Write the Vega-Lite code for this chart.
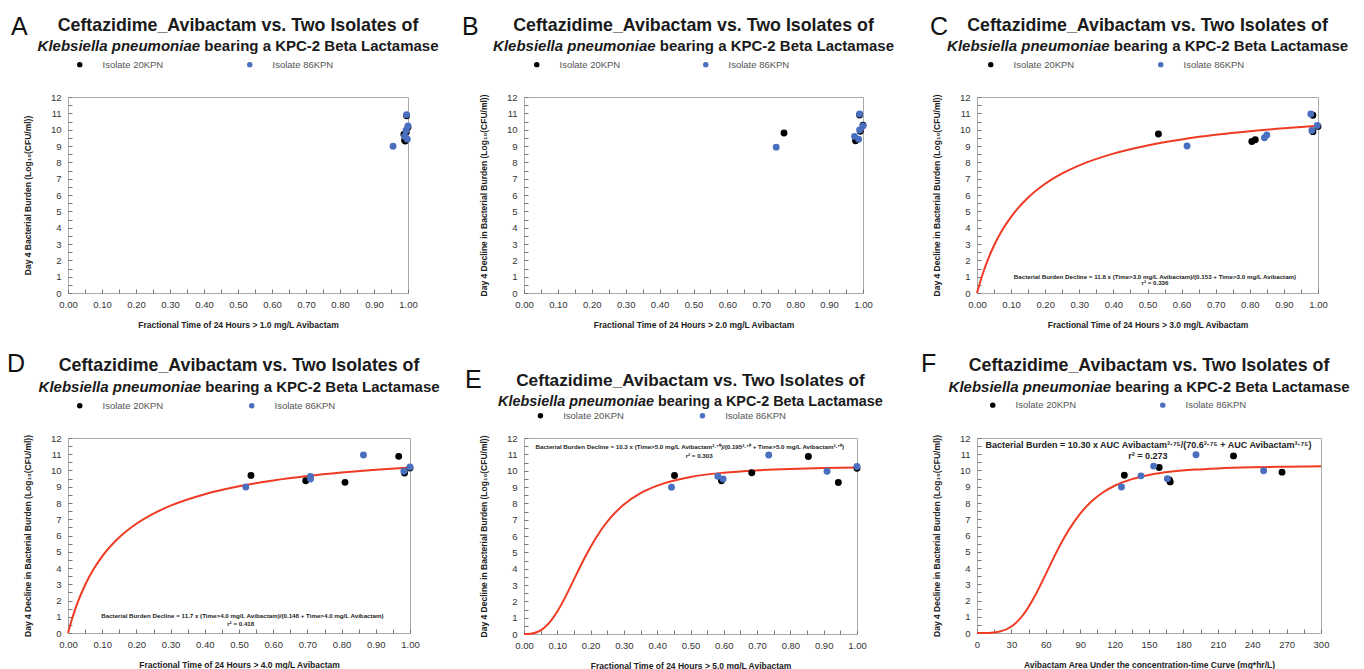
{
  "$schema": "https://vega.github.io/schema/vega-lite/v6.json",
  "padding": {"left": 6, "top": 14, "right": 0, "bottom": 0},
  "background": "white",
  "datasets": {
    "A_pts": [
      {"isolate": "Isolate 20KPN", "x": 0.988, "y": 9.7},
      {"isolate": "Isolate 20KPN", "x": 1.0, "y": 10.15},
      {"isolate": "Isolate 20KPN", "x": 0.992, "y": 9.3},
      {"isolate": "Isolate 20KPN", "x": 0.99, "y": 9.35},
      {"isolate": "Isolate 20KPN", "x": 0.996, "y": 10.85},
      {"isolate": "Isolate 20KPN", "x": 0.995, "y": 9.85},
      {"isolate": "Isolate 86KPN", "x": 0.956, "y": 8.98},
      {"isolate": "Isolate 86KPN", "x": 0.99, "y": 9.6},
      {"isolate": "Isolate 86KPN", "x": 1.0, "y": 10.22},
      {"isolate": "Isolate 86KPN", "x": 0.998, "y": 9.42},
      {"isolate": "Isolate 86KPN", "x": 0.996, "y": 10.92},
      {"isolate": "Isolate 86KPN", "x": 0.994, "y": 9.95}
    ],
    "B_pts": [
      {"isolate": "Isolate 20KPN", "x": 0.767, "y": 9.8},
      {"isolate": "Isolate 20KPN", "x": 1.0, "y": 10.28},
      {"isolate": "Isolate 20KPN", "x": 0.978, "y": 9.32},
      {"isolate": "Isolate 20KPN", "x": 0.98, "y": 9.38},
      {"isolate": "Isolate 20KPN", "x": 0.99, "y": 10.9},
      {"isolate": "Isolate 20KPN", "x": 0.992, "y": 9.9},
      {"isolate": "Isolate 86KPN", "x": 0.744, "y": 8.93},
      {"isolate": "Isolate 86KPN", "x": 0.975, "y": 9.59},
      {"isolate": "Isolate 86KPN", "x": 1.0, "y": 10.22},
      {"isolate": "Isolate 86KPN", "x": 0.987, "y": 9.42},
      {"isolate": "Isolate 86KPN", "x": 0.99, "y": 10.96},
      {"isolate": "Isolate 86KPN", "x": 0.99, "y": 9.98}
    ],
    "C_pts": [
      {"isolate": "Isolate 20KPN", "x": 0.532, "y": 9.73},
      {"isolate": "Isolate 20KPN", "x": 1.0, "y": 10.2},
      {"isolate": "Isolate 20KPN", "x": 0.806, "y": 9.28},
      {"isolate": "Isolate 20KPN", "x": 0.816, "y": 9.38},
      {"isolate": "Isolate 20KPN", "x": 0.985, "y": 10.88},
      {"isolate": "Isolate 20KPN", "x": 0.985, "y": 9.88},
      {"isolate": "Isolate 86KPN", "x": 0.616, "y": 9.0},
      {"isolate": "Isolate 86KPN", "x": 0.85, "y": 9.67},
      {"isolate": "Isolate 86KPN", "x": 0.998, "y": 10.25},
      {"isolate": "Isolate 86KPN", "x": 0.843, "y": 9.5},
      {"isolate": "Isolate 86KPN", "x": 0.979, "y": 10.96},
      {"isolate": "Isolate 86KPN", "x": 0.982, "y": 9.95}
    ],
    "D_pts": [
      {"isolate": "Isolate 20KPN", "x": 0.535, "y": 9.7},
      {"isolate": "Isolate 20KPN", "x": 1.0, "y": 10.15},
      {"isolate": "Isolate 20KPN", "x": 0.81, "y": 9.27},
      {"isolate": "Isolate 20KPN", "x": 0.695, "y": 9.37},
      {"isolate": "Isolate 20KPN", "x": 0.967, "y": 10.87},
      {"isolate": "Isolate 20KPN", "x": 0.984, "y": 9.85},
      {"isolate": "Isolate 86KPN", "x": 0.52, "y": 8.98},
      {"isolate": "Isolate 86KPN", "x": 0.709, "y": 9.64},
      {"isolate": "Isolate 86KPN", "x": 1.0, "y": 10.22},
      {"isolate": "Isolate 86KPN", "x": 0.709, "y": 9.48},
      {"isolate": "Isolate 86KPN", "x": 0.864, "y": 10.95},
      {"isolate": "Isolate 86KPN", "x": 0.982, "y": 9.95}
    ],
    "E_pts": [
      {"isolate": "Isolate 20KPN", "x": 0.452, "y": 9.7},
      {"isolate": "Isolate 20KPN", "x": 1.0, "y": 10.15},
      {"isolate": "Isolate 20KPN", "x": 0.944, "y": 9.27},
      {"isolate": "Isolate 20KPN", "x": 0.593, "y": 9.38},
      {"isolate": "Isolate 20KPN", "x": 0.854, "y": 10.87},
      {"isolate": "Isolate 20KPN", "x": 0.684, "y": 9.87},
      {"isolate": "Isolate 86KPN", "x": 0.443, "y": 8.98},
      {"isolate": "Isolate 86KPN", "x": 0.582, "y": 9.66},
      {"isolate": "Isolate 86KPN", "x": 1.0, "y": 10.26},
      {"isolate": "Isolate 86KPN", "x": 0.598, "y": 9.49},
      {"isolate": "Isolate 86KPN", "x": 0.735, "y": 10.96},
      {"isolate": "Isolate 86KPN", "x": 0.91, "y": 9.96}
    ],
    "F_pts": [
      {"isolate": "Isolate 20KPN", "x": 128.5, "y": 9.71},
      {"isolate": "Isolate 20KPN", "x": 158.9, "y": 10.19},
      {"isolate": "Isolate 20KPN", "x": 168.5, "y": 9.3},
      {"isolate": "Isolate 20KPN", "x": 167.8, "y": 9.42},
      {"isolate": "Isolate 20KPN", "x": 223.7, "y": 10.9},
      {"isolate": "Isolate 20KPN", "x": 266, "y": 9.9},
      {"isolate": "Isolate 86KPN", "x": 126, "y": 8.99},
      {"isolate": "Isolate 86KPN", "x": 143, "y": 9.67},
      {"isolate": "Isolate 86KPN", "x": 154, "y": 10.27},
      {"isolate": "Isolate 86KPN", "x": 166, "y": 9.5},
      {"isolate": "Isolate 86KPN", "x": 191, "y": 10.97},
      {"isolate": "Isolate 86KPN", "x": 250, "y": 9.98}
    ],
    "C_fit": [
      {"x": 0, "y": 0}, {"x": 0.01, "y": 0.724}, {"x": 0.02, "y": 1.364}, {"x": 0.03, "y": 1.934},
      {"x": 0.05, "y": 2.906}, {"x": 0.075, "y": 3.882}, {"x": 0.1, "y": 4.664}, {"x": 0.15, "y": 5.842},
      {"x": 0.2, "y": 6.686}, {"x": 0.25, "y": 7.32}, {"x": 0.3, "y": 7.815}, {"x": 0.4, "y": 8.535},
      {"x": 0.5, "y": 9.035}, {"x": 0.6, "y": 9.402}, {"x": 0.7, "y": 9.684}, {"x": 0.8, "y": 9.906},
      {"x": 0.9, "y": 10.085}, {"x": 1.0, "y": 10.234}
    ],
    "D_fit": [
      {"x": 0, "y": 0}, {"x": 0.01, "y": 0.741}, {"x": 0.02, "y": 1.393}, {"x": 0.03, "y": 1.972},
      {"x": 0.05, "y": 2.955}, {"x": 0.075, "y": 3.935}, {"x": 0.1, "y": 4.718}, {"x": 0.15, "y": 5.889},
      {"x": 0.2, "y": 6.724}, {"x": 0.25, "y": 7.349}, {"x": 0.3, "y": 7.835}, {"x": 0.4, "y": 8.54},
      {"x": 0.5, "y": 9.028}, {"x": 0.6, "y": 9.385}, {"x": 0.7, "y": 9.658}, {"x": 0.8, "y": 9.873},
      {"x": 0.9, "y": 10.048}, {"x": 1.0, "y": 10.192}
    ],
    "E_fit": [
      {"x": 0, "y": 0}, {"x": 0.02, "y": 0.018}, {"x": 0.04, "y": 0.121}, {"x": 0.06, "y": 0.367},
      {"x": 0.08, "y": 0.785}, {"x": 0.1, "y": 1.376}, {"x": 0.12, "y": 2.105}, {"x": 0.14, "y": 2.919},
      {"x": 0.16, "y": 3.759}, {"x": 0.18, "y": 4.575}, {"x": 0.2, "y": 5.333}, {"x": 0.23, "y": 6.32},
      {"x": 0.26, "y": 7.119}, {"x": 0.3, "y": 7.927}, {"x": 0.35, "y": 8.624}, {"x": 0.4, "y": 9.085},
      {"x": 0.5, "y": 9.612}, {"x": 0.6, "y": 9.876}, {"x": 0.7, "y": 10.02}, {"x": 0.8, "y": 10.106},
      {"x": 0.9, "y": 10.16}, {"x": 1.0, "y": 10.195}
    ],
    "F_fit": [
      {"x": 0, "y": 0}, {"x": 10, "y": 0.007}, {"x": 20, "y": 0.09}, {"x": 30, "y": 0.4},
      {"x": 40, "y": 1.093}, {"x": 50, "y": 2.218}, {"x": 60, "y": 3.626}, {"x": 70, "y": 5.068},
      {"x": 80, "y": 6.335}, {"x": 90, "y": 7.345}, {"x": 100, "y": 8.104}, {"x": 110, "y": 8.659},
      {"x": 120, "y": 9.061}, {"x": 135, "y": 9.467}, {"x": 150, "y": 9.724}, {"x": 170, "y": 9.932},
      {"x": 190, "y": 10.055}, {"x": 210, "y": 10.13}, {"x": 240, "y": 10.196}, {"x": 270, "y": 10.233},
      {"x": 300, "y": 10.255}
    ]
  },
  "columns": 3,
  "align": "none",
  "bounds": "flush",
  "spacing": {"row": 145, "column": 114},
  "resolve": {"scale": {"color": "independent"}, "legend": {"color": "independent"}},
  "concat": [
    {
      "width": 340, "height": 196,
      "resolve": {"scale": {"x": "independent", "y": "independent"}, "axis": {"x": "independent", "y": "independent"}},
      "layer": [
        {"data": {"name": "A_pts"}, "mark": {"type": "point", "filled": true, "size": 48, "opacity": 1},
         "encoding": {
           "x": {"field": "x", "type": "quantitative", "scale": {"domain": [0, 1], "nice": false},
                 "axis": {"title": "Fractional Time of 24 Hours > 1.0 mg/L Avibactam", "labelOverlap": false, "values": [0,0.05,0.1,0.15,0.2,0.25,0.3,0.35,0.4,0.45,0.5,0.55,0.6,0.65,0.7,0.75,0.8,0.85,0.9,0.95,1], "labelExpr": "round(datum.value*20) % 2 == 0 ? format(datum.value, '.2f') : ''"}},
           "y": {"field": "y", "type": "quantitative", "scale": {"domain": [0, 12], "nice": false},
                 "axis": {"title": "Day 4 Bacterial Burden (Log₁₀(CFU/ml))", "labelOverlap": false, "values": [0,0.5,1,1.5,2,2.5,3,3.5,4,4.5,5,5.5,6,6.5,7,7.5,8,8.5,9,9.5,10,10.5,11,11.5,12], "labelExpr": "datum.value % 1 == 0 ? format(datum.value, 'd') : ''"}},
           "color": {"field": "isolate", "type": "nominal", "scale": {"domain": ["Isolate 20KPN", "Isolate 86KPN"], "range": ["#000000", "#4a6fbf"]},
                     "legend": {"orient": "none", "legendX": 7, "legendY": -37.5, "direction": "horizontal", "title": null, "columnPadding": 81}}
         }},
        {"data": {"values": [{}]}, "mark": {"type": "text", "text": "A", "font": "Liberation Sans", "fontSize": 25, "align": "left", "baseline": "alphabetic", "color": "#111"},
         "encoding": {"x": {"datum": -0.1676, "scale": {"domain": [0, 1], "nice": false}, "axis": null}, "y": {"datum": 15.8, "scale": {"domain": [0, 12], "nice": false}, "axis": null}}},
        {"data": {"values": [{}]}, "mark": {"type": "text", "text": "Ceftazidime_Avibactam vs. Two Isolates of", "font": "Liberation Sans", "fontSize": 17.8, "fontWeight": "bold", "align": "center", "baseline": "alphabetic", "color": "#1a1a1a"},
         "encoding": {"x": {"datum": 0.5, "scale": {"domain": [0, 1], "nice": false}, "axis": null}, "y": {"datum": 16.04, "scale": {"domain": [0, 12], "nice": false}, "axis": null}}},
        {"data": {"values": [{}]}, "mark": {"type": "text", "text": "Klebsiella pneumoniae", "font": "Liberation Sans", "fontSize": 15, "fontWeight": "bold", "fontStyle": "italic", "align": "right", "baseline": "alphabetic", "color": "#1a1a1a"},
         "encoding": {"x": {"datum": 0.3885, "scale": {"domain": [0, 1], "nice": false}, "axis": null}, "y": {"datum": 14.79, "scale": {"domain": [0, 12], "nice": false}, "axis": null}}},
        {"data": {"values": [{}]}, "mark": {"type": "text", "text": "bearing a KPC-2 Beta Lactamase", "dx": 4.2, "font": "Liberation Sans", "fontSize": 15, "fontWeight": "bold", "align": "left", "baseline": "alphabetic", "color": "#1a1a1a"},
         "encoding": {"x": {"datum": 0.3885, "scale": {"domain": [0, 1], "nice": false}, "axis": null}, "y": {"datum": 14.79, "scale": {"domain": [0, 12], "nice": false}, "axis": null}}}
      ]
    },
    {
      "width": 339, "height": 196,
      "resolve": {"scale": {"x": "independent", "y": "independent"}, "axis": {"x": "independent", "y": "independent"}},
      "layer": [
        {"data": {"name": "B_pts"}, "mark": {"type": "point", "filled": true, "size": 48, "opacity": 1},
         "encoding": {
           "x": {"field": "x", "type": "quantitative", "scale": {"domain": [0, 1], "nice": false},
                 "axis": {"title": "Fractional Time of 24 Hours > 2.0 mg/L Avibactam", "labelOverlap": false, "values": [0,0.05,0.1,0.15,0.2,0.25,0.3,0.35,0.4,0.45,0.5,0.55,0.6,0.65,0.7,0.75,0.8,0.85,0.9,0.95,1], "labelExpr": "round(datum.value*20) % 2 == 0 ? format(datum.value, '.2f') : ''"}},
           "y": {"field": "y", "type": "quantitative", "scale": {"domain": [0, 12], "nice": false},
                 "axis": {"title": "Day 4 Decline in Bacterial Burden (Log₁₀(CFU/ml))", "labelOverlap": false, "values": [0,0.5,1,1.5,2,2.5,3,3.5,4,4.5,5,5.5,6,6.5,7,7.5,8,8.5,9,9.5,10,10.5,11,11.5,12], "labelExpr": "datum.value % 1 == 0 ? format(datum.value, 'd') : ''"}},
           "color": {"field": "isolate", "type": "nominal", "scale": {"domain": ["Isolate 20KPN", "Isolate 86KPN"], "range": ["#000000", "#4a6fbf"]},
                     "legend": {"orient": "none", "legendX": 8, "legendY": -37.5, "direction": "horizontal", "title": null, "columnPadding": 80}}
         }},
        {"data": {"values": [{}]}, "mark": {"type": "text", "text": "B", "font": "Liberation Sans", "fontSize": 25, "align": "left", "baseline": "alphabetic", "color": "#111"},
         "encoding": {"x": {"datum": -0.1829, "scale": {"domain": [0, 1], "nice": false}, "axis": null}, "y": {"datum": 15.8, "scale": {"domain": [0, 12], "nice": false}, "axis": null}}},
        {"data": {"values": [{}]}, "mark": {"type": "text", "text": "Ceftazidime_Avibactam vs. Two Isolates of", "font": "Liberation Sans", "fontSize": 17.8, "fontWeight": "bold", "align": "center", "baseline": "alphabetic", "color": "#1a1a1a"},
         "encoding": {"x": {"datum": 0.5, "scale": {"domain": [0, 1], "nice": false}, "axis": null}, "y": {"datum": 16.04, "scale": {"domain": [0, 12], "nice": false}, "axis": null}}},
        {"data": {"values": [{}]}, "mark": {"type": "text", "text": "Klebsiella pneumoniae", "font": "Liberation Sans", "fontSize": 15, "fontWeight": "bold", "fontStyle": "italic", "align": "right", "baseline": "alphabetic", "color": "#1a1a1a"},
         "encoding": {"x": {"datum": 0.3882, "scale": {"domain": [0, 1], "nice": false}, "axis": null}, "y": {"datum": 14.79, "scale": {"domain": [0, 12], "nice": false}, "axis": null}}},
        {"data": {"values": [{}]}, "mark": {"type": "text", "text": "bearing a KPC-2 Beta Lactamase", "dx": 4.2, "font": "Liberation Sans", "fontSize": 15, "fontWeight": "bold", "align": "left", "baseline": "alphabetic", "color": "#1a1a1a"},
         "encoding": {"x": {"datum": 0.3882, "scale": {"domain": [0, 1], "nice": false}, "axis": null}, "y": {"datum": 14.79, "scale": {"domain": [0, 12], "nice": false}, "axis": null}}}
      ]
    },
    {
      "width": 341, "height": 196,
      "resolve": {"scale": {"x": "independent", "y": "independent"}, "axis": {"x": "independent", "y": "independent"}},
      "layer": [
        {"data": {"name": "C_fit"}, "mark": {"type": "line", "color": "#ef3b24", "strokeWidth": 2, "interpolate": "monotone"},
         "encoding": {
           "x": {"field": "x", "type": "quantitative", "scale": {"domain": [0, 1], "nice": false},
                 "axis": {"title": "Fractional Time of 24 Hours > 3.0 mg/L Avibactam", "labelOverlap": false, "values": [0,0.05,0.1,0.15,0.2,0.25,0.3,0.35,0.4,0.45,0.5,0.55,0.6,0.65,0.7,0.75,0.8,0.85,0.9,0.95,1], "labelExpr": "round(datum.value*20) % 2 == 0 ? format(datum.value, '.2f') : ''"}},
           "y": {"field": "y", "type": "quantitative", "scale": {"domain": [0, 12], "nice": false},
                 "axis": {"title": "Day 4 Decline in Bacterial Burden (Log₁₀(CFU/ml))", "labelOverlap": false, "values": [0,0.5,1,1.5,2,2.5,3,3.5,4,4.5,5,5.5,6,6.5,7,7.5,8,8.5,9,9.5,10,10.5,11,11.5,12], "labelExpr": "datum.value % 1 == 0 ? format(datum.value, 'd') : ''"}}
         }},
        {"data": {"name": "C_pts"}, "mark": {"type": "point", "filled": true, "size": 48, "opacity": 1},
         "encoding": {
           "x": {"field": "x", "type": "quantitative", "scale": {"domain": [0, 1], "nice": false}, "axis": null},
           "y": {"field": "y", "type": "quantitative", "scale": {"domain": [0, 12], "nice": false}, "axis": null},
           "color": {"field": "isolate", "type": "nominal", "scale": {"domain": ["Isolate 20KPN", "Isolate 86KPN"], "range": ["#000000", "#4a6fbf"]},
                     "legend": {"orient": "none", "legendX": 9, "legendY": -37.5, "direction": "horizontal", "title": null, "columnPadding": 81}}
         }},
        {"data": {"values": [{}]}, "mark": {"type": "text", "text": "Bacterial Burden Decline = 11.8 x (Time>3.0 mg/L Avibactam)/(0.153 + Time>3.0 mg/L Avibactam)", "font": "Liberation Sans", "fontSize": 6.2, "fontWeight": "bold", "align": "center", "baseline": "middle", "color": "#222"},
         "encoding": {"x": {"datum": 0.522, "scale": {"domain": [0, 1], "nice": false}, "axis": null}, "y": {"datum": 1.0, "scale": {"domain": [0, 12], "nice": false}, "axis": null}}},
        {"data": {"values": [{}]}, "mark": {"type": "text", "text": "r² = 0.336", "font": "Liberation Sans", "fontSize": 6.2, "fontWeight": "bold", "align": "center", "baseline": "middle", "color": "#222"},
         "encoding": {"x": {"datum": 0.522, "scale": {"domain": [0, 1], "nice": false}, "axis": null}, "y": {"datum": 0.59, "scale": {"domain": [0, 12], "nice": false}, "axis": null}}},
        {"data": {"values": [{}]}, "mark": {"type": "text", "text": "C", "font": "Liberation Sans", "fontSize": 25, "align": "left", "baseline": "alphabetic", "color": "#111"},
         "encoding": {"x": {"datum": -0.1378, "scale": {"domain": [0, 1], "nice": false}, "axis": null}, "y": {"datum": 15.8, "scale": {"domain": [0, 12], "nice": false}, "axis": null}}},
        {"data": {"values": [{}]}, "mark": {"type": "text", "text": "Ceftazidime_Avibactam vs. Two Isolates of", "font": "Liberation Sans", "fontSize": 17.8, "fontWeight": "bold", "align": "center", "baseline": "alphabetic", "color": "#1a1a1a"},
         "encoding": {"x": {"datum": 0.5, "scale": {"domain": [0, 1], "nice": false}, "axis": null}, "y": {"datum": 16.04, "scale": {"domain": [0, 12], "nice": false}, "axis": null}}},
        {"data": {"values": [{}]}, "mark": {"type": "text", "text": "Klebsiella pneumoniae", "font": "Liberation Sans", "fontSize": 15, "fontWeight": "bold", "fontStyle": "italic", "align": "right", "baseline": "alphabetic", "color": "#1a1a1a"},
         "encoding": {"x": {"datum": 0.3889, "scale": {"domain": [0, 1], "nice": false}, "axis": null}, "y": {"datum": 14.79, "scale": {"domain": [0, 12], "nice": false}, "axis": null}}},
        {"data": {"values": [{}]}, "mark": {"type": "text", "text": "bearing a KPC-2 Beta Lactamase", "dx": 4.2, "font": "Liberation Sans", "fontSize": 15, "fontWeight": "bold", "align": "left", "baseline": "alphabetic", "color": "#1a1a1a"},
         "encoding": {"x": {"datum": 0.3889, "scale": {"domain": [0, 1], "nice": false}, "axis": null}, "y": {"datum": 14.79, "scale": {"domain": [0, 12], "nice": false}, "axis": null}}}
      ]
    },
    {
      "width": 342, "height": 195,
      "resolve": {"scale": {"x": "independent", "y": "independent"}, "axis": {"x": "independent", "y": "independent"}},
      "layer": [
        {"data": {"name": "D_fit"}, "mark": {"type": "line", "color": "#ef3b24", "strokeWidth": 2, "interpolate": "monotone"},
         "encoding": {
           "x": {"field": "x", "type": "quantitative", "scale": {"domain": [0, 1], "nice": false},
                 "axis": {"title": "Fractional Time of 24 Hours > 4.0 mg/L Avibactam", "labelOverlap": false, "values": [0,0.05,0.1,0.15,0.2,0.25,0.3,0.35,0.4,0.45,0.5,0.55,0.6,0.65,0.7,0.75,0.8,0.85,0.9,0.95,1], "labelExpr": "round(datum.value*20) % 2 == 0 ? format(datum.value, '.2f') : ''"}},
           "y": {"field": "y", "type": "quantitative", "scale": {"domain": [0, 12], "nice": false},
                 "axis": {"title": "Day 4 Decline in Bacterial Burden (Log₁₀(CFU/ml))", "labelOverlap": false, "values": [0,0.5,1,1.5,2,2.5,3,3.5,4,4.5,5,5.5,6,6.5,7,7.5,8,8.5,9,9.5,10,10.5,11,11.5,12], "labelExpr": "datum.value % 1 == 0 ? format(datum.value, 'd') : ''"}}
         }},
        {"data": {"name": "D_pts"}, "mark": {"type": "point", "filled": true, "size": 48, "opacity": 1},
         "encoding": {
           "x": {"field": "x", "type": "quantitative", "scale": {"domain": [0, 1], "nice": false}, "axis": null},
           "y": {"field": "y", "type": "quantitative", "scale": {"domain": [0, 12], "nice": false}, "axis": null},
           "color": {"field": "isolate", "type": "nominal", "scale": {"domain": ["Isolate 20KPN", "Isolate 86KPN"], "range": ["#000000", "#4a6fbf"]},
                     "legend": {"orient": "none", "legendX": 7, "legendY": -37.3, "direction": "horizontal", "title": null, "columnPadding": 83}}
         }},
        {"data": {"values": [{}]}, "mark": {"type": "text", "text": "Bacterial Burden Decline = 11.7 x (Time>4.0 mg/L Avibactam)/(0.148 + Time>4.0 mg/L Avibactam)", "font": "Liberation Sans", "fontSize": 6.2, "fontWeight": "bold", "align": "center", "baseline": "middle", "color": "#222"},
         "encoding": {"x": {"datum": 0.51, "scale": {"domain": [0, 1], "nice": false}, "axis": null}, "y": {"datum": 1.05, "scale": {"domain": [0, 12], "nice": false}, "axis": null}}},
        {"data": {"values": [{}]}, "mark": {"type": "text", "text": "r² = 0.418", "font": "Liberation Sans", "fontSize": 6.2, "fontWeight": "bold", "align": "center", "baseline": "middle", "color": "#222"},
         "encoding": {"x": {"datum": 0.505, "scale": {"domain": [0, 1], "nice": false}, "axis": null}, "y": {"datum": 0.55, "scale": {"domain": [0, 12], "nice": false}, "axis": null}}},
        {"data": {"values": [{}]}, "mark": {"type": "text", "text": "D", "font": "Liberation Sans", "fontSize": 25, "align": "left", "baseline": "alphabetic", "color": "#111"},
         "encoding": {"x": {"datum": -0.1784, "scale": {"domain": [0, 1], "nice": false}, "axis": null}, "y": {"datum": 16.06, "scale": {"domain": [0, 12], "nice": false}, "axis": null}}},
        {"data": {"values": [{}]}, "mark": {"type": "text", "text": "Ceftazidime_Avibactam vs. Two Isolates of", "font": "Liberation Sans", "fontSize": 17.8, "fontWeight": "bold", "align": "center", "baseline": "alphabetic", "color": "#1a1a1a"},
         "encoding": {"x": {"datum": 0.5, "scale": {"domain": [0, 1], "nice": false}, "axis": null}, "y": {"datum": 16.12, "scale": {"domain": [0, 12], "nice": false}, "axis": null}}},
        {"data": {"values": [{}]}, "mark": {"type": "text", "text": "Klebsiella pneumoniae", "font": "Liberation Sans", "fontSize": 15, "fontWeight": "bold", "fontStyle": "italic", "align": "right", "baseline": "alphabetic", "color": "#1a1a1a"},
         "encoding": {"x": {"datum": 0.3892, "scale": {"domain": [0, 1], "nice": false}, "axis": null}, "y": {"datum": 14.83, "scale": {"domain": [0, 12], "nice": false}, "axis": null}}},
        {"data": {"values": [{}]}, "mark": {"type": "text", "text": "bearing a KPC-2 Beta Lactamase", "dx": 4.2, "font": "Liberation Sans", "fontSize": 15, "fontWeight": "bold", "align": "left", "baseline": "alphabetic", "color": "#1a1a1a"},
         "encoding": {"x": {"datum": 0.3892, "scale": {"domain": [0, 1], "nice": false}, "axis": null}, "y": {"datum": 14.83, "scale": {"domain": [0, 12], "nice": false}, "axis": null}}}
      ]
    },
    {
      "width": 333, "height": 196,
      "resolve": {"scale": {"x": "independent", "y": "independent"}, "axis": {"x": "independent", "y": "independent"}},
      "layer": [
        {"data": {"name": "E_fit"}, "mark": {"type": "line", "color": "#ef3b24", "strokeWidth": 2, "interpolate": "monotone"},
         "encoding": {
           "x": {"field": "x", "type": "quantitative", "scale": {"domain": [0, 1], "nice": false},
                 "axis": {"title": "Fractional Time of 24 Hours > 5.0 mg/L Avibactam", "labelOverlap": false, "values": [0,0.05,0.1,0.15,0.2,0.25,0.3,0.35,0.4,0.45,0.5,0.55,0.6,0.65,0.7,0.75,0.8,0.85,0.9,0.95,1], "labelExpr": "round(datum.value*20) % 2 == 0 ? format(datum.value, '.2f') : ''"}},
           "y": {"field": "y", "type": "quantitative", "scale": {"domain": [0, 12], "nice": false},
                 "axis": {"title": "Day 4 Decline in Bacterial Burden (Log₁₀(CFU/ml))", "labelOverlap": false, "values": [0,0.5,1,1.5,2,2.5,3,3.5,4,4.5,5,5.5,6,6.5,7,7.5,8,8.5,9,9.5,10,10.5,11,11.5,12], "labelExpr": "datum.value % 1 == 0 ? format(datum.value, 'd') : ''"}}
         }},
        {"data": {"name": "E_pts"}, "mark": {"type": "point", "filled": true, "size": 48, "opacity": 1},
         "encoding": {
           "x": {"field": "x", "type": "quantitative", "scale": {"domain": [0, 1], "nice": false}, "axis": null},
           "y": {"field": "y", "type": "quantitative", "scale": {"domain": [0, 12], "nice": false}, "axis": null},
           "color": {"field": "isolate", "type": "nominal", "scale": {"domain": ["Isolate 20KPN", "Isolate 86KPN"], "range": ["#000000", "#4a6fbf"]},
                     "legend": {"orient": "none", "legendX": 11.7, "legendY": -27.3, "direction": "horizontal", "title": null, "columnPadding": 73}}
         }},
        {"data": {"values": [{}]}, "mark": {"type": "text", "text": "Bacterial Burden Decline = 10.3 x (Time>5.0 mg/L Avibactam²·⁷⁰)/(0.195²·⁷⁰ + Time>5.0 mg/L Avibactam²·⁷⁰)", "font": "Liberation Sans", "fontSize": 6.2, "fontWeight": "bold", "align": "center", "baseline": "middle", "color": "#222"},
         "encoding": {"x": {"datum": 0.498, "scale": {"domain": [0, 1], "nice": false}, "axis": null}, "y": {"datum": 11.44, "scale": {"domain": [0, 12], "nice": false}, "axis": null}}},
        {"data": {"values": [{}]}, "mark": {"type": "text", "text": "r² = 0.303", "font": "Liberation Sans", "fontSize": 6.2, "fontWeight": "bold", "align": "center", "baseline": "middle", "color": "#222"},
         "encoding": {"x": {"datum": 0.526, "scale": {"domain": [0, 1], "nice": false}, "axis": null}, "y": {"datum": 10.91, "scale": {"domain": [0, 12], "nice": false}, "axis": null}}},
        {"data": {"values": [{}]}, "mark": {"type": "text", "text": "E", "font": "Liberation Sans", "fontSize": 25, "align": "left", "baseline": "alphabetic", "color": "#111"},
         "encoding": {"x": {"datum": -0.1772, "scale": {"domain": [0, 1], "nice": false}, "axis": null}, "y": {"datum": 15.06, "scale": {"domain": [0, 12], "nice": false}, "axis": null}}},
        {"data": {"values": [{}]}, "mark": {"type": "text", "text": "Ceftazidime_Avibactam vs. Two Isolates of", "font": "Liberation Sans", "fontSize": 17.2, "fontWeight": "bold", "align": "center", "baseline": "alphabetic", "color": "#1a1a1a"},
         "encoding": {"x": {"datum": 0.5, "scale": {"domain": [0, 1], "nice": false}, "axis": null}, "y": {"datum": 15.18, "scale": {"domain": [0, 12], "nice": false}, "axis": null}}},
        {"data": {"values": [{}]}, "mark": {"type": "text", "text": "Klebsiella pneumoniae", "font": "Liberation Sans", "fontSize": 14.4, "fontWeight": "bold", "fontStyle": "italic", "align": "right", "baseline": "alphabetic", "color": "#1a1a1a"},
         "encoding": {"x": {"datum": 0.3904, "scale": {"domain": [0, 1], "nice": false}, "axis": null}, "y": {"datum": 13.96, "scale": {"domain": [0, 12], "nice": false}, "axis": null}}},
        {"data": {"values": [{}]}, "mark": {"type": "text", "text": "bearing a KPC-2 Beta Lactamase", "dx": 4, "font": "Liberation Sans", "fontSize": 14.4, "fontWeight": "bold", "align": "left", "baseline": "alphabetic", "color": "#1a1a1a"},
         "encoding": {"x": {"datum": 0.3904, "scale": {"domain": [0, 1], "nice": false}, "axis": null}, "y": {"datum": 13.96, "scale": {"domain": [0, 12], "nice": false}, "axis": null}}}
      ]
    },
    {
      "width": 344, "height": 195,
      "resolve": {"scale": {"x": "independent", "y": "independent"}, "axis": {"x": "independent", "y": "independent"}},
      "layer": [
        {"data": {"name": "F_fit"}, "mark": {"type": "line", "color": "#ef3b24", "strokeWidth": 2, "interpolate": "monotone"},
         "encoding": {
           "x": {"field": "x", "type": "quantitative", "scale": {"domain": [0, 300], "nice": false},
                 "axis": {"title": "Avibactam Area Under the concentration-time Curve (mg*hr/L)", "labelOverlap": false, "values": [0,15,30,45,60,75,90,105,120,135,150,165,180,195,210,225,240,255,270,285,300], "labelExpr": "datum.value % 30 == 0 ? datum.label : ''"}},
           "y": {"field": "y", "type": "quantitative", "scale": {"domain": [0, 12], "nice": false},
                 "axis": {"title": "Day 4 Decline in Bacterial Burden (Log₁₀(CFU/ml))", "labelOverlap": false, "values": [0,0.5,1,1.5,2,2.5,3,3.5,4,4.5,5,5.5,6,6.5,7,7.5,8,8.5,9,9.5,10,10.5,11,11.5,12], "labelExpr": "datum.value % 1 == 0 ? format(datum.value, 'd') : ''"}}
         }},
        {"data": {"name": "F_pts"}, "mark": {"type": "point", "filled": true, "size": 48, "opacity": 1},
         "encoding": {
           "x": {"field": "x", "type": "quantitative", "scale": {"domain": [0, 300], "nice": false}, "axis": null},
           "y": {"field": "y", "type": "quantitative", "scale": {"domain": [0, 12], "nice": false}, "axis": null},
           "color": {"field": "isolate", "type": "nominal", "scale": {"domain": ["Isolate 20KPN", "Isolate 86KPN"], "range": ["#000000", "#4a6fbf"]},
                     "legend": {"orient": "none", "legendX": 11, "legendY": -38, "direction": "horizontal", "title": null, "columnPadding": 81}}
         }},
        {"data": {"values": [{}]}, "mark": {"type": "text", "text": "Bacterial Burden = 10.30 x AUC Avibactam³·⁷⁵/(70.6³·⁷⁵ + AUC Avibactam³·⁷⁵)", "font": "Liberation Sans", "fontSize": 9, "fontWeight": "bold", "align": "center", "baseline": "middle", "color": "#222"},
         "encoding": {"x": {"datum": 149.6, "scale": {"domain": [0, 300], "nice": false}, "axis": null}, "y": {"datum": 11.57, "scale": {"domain": [0, 12], "nice": false}, "axis": null}}},
        {"data": {"values": [{}]}, "mark": {"type": "text", "text": "r² = 0.273", "font": "Liberation Sans", "fontSize": 9, "fontWeight": "bold", "align": "center", "baseline": "middle", "color": "#222"},
         "encoding": {"x": {"datum": 149, "scale": {"domain": [0, 300], "nice": false}, "axis": null}, "y": {"datum": 10.87, "scale": {"domain": [0, 12], "nice": false}, "axis": null}}},
        {"data": {"values": [{}]}, "mark": {"type": "text", "text": "F", "font": "Liberation Sans", "fontSize": 25, "align": "left", "baseline": "alphabetic", "color": "#111"},
         "encoding": {"x": {"datum": -48.8, "scale": {"domain": [0, 300], "nice": false}, "axis": null}, "y": {"datum": 16.06, "scale": {"domain": [0, 12], "nice": false}, "axis": null}}},
        {"data": {"values": [{}]}, "mark": {"type": "text", "text": "Ceftazidime_Avibactam vs. Two Isolates of", "font": "Liberation Sans", "fontSize": 17.8, "fontWeight": "bold", "align": "center", "baseline": "alphabetic", "color": "#1a1a1a"},
         "encoding": {"x": {"datum": 150, "scale": {"domain": [0, 300], "nice": false}, "axis": null}, "y": {"datum": 16.12, "scale": {"domain": [0, 12], "nice": false}, "axis": null}}},
        {"data": {"values": [{}]}, "mark": {"type": "text", "text": "Klebsiella pneumoniae", "font": "Liberation Sans", "fontSize": 15, "fontWeight": "bold", "fontStyle": "italic", "align": "right", "baseline": "alphabetic", "color": "#1a1a1a"},
         "encoding": {"x": {"datum": 116.95, "scale": {"domain": [0, 300], "nice": false}, "axis": null}, "y": {"datum": 14.83, "scale": {"domain": [0, 12], "nice": false}, "axis": null}}},
        {"data": {"values": [{}]}, "mark": {"type": "text", "text": "bearing a KPC-2 Beta Lactamase", "dx": 4.2, "font": "Liberation Sans", "fontSize": 15, "fontWeight": "bold", "align": "left", "baseline": "alphabetic", "color": "#1a1a1a"},
         "encoding": {"x": {"datum": 116.95, "scale": {"domain": [0, 300], "nice": false}, "axis": null}, "y": {"datum": 14.83, "scale": {"domain": [0, 12], "nice": false}, "axis": null}}}
      ]
    }
  ],
  "config": {
    "view": {"stroke": "#aaaaaa", "strokeWidth": 1},
    "axis": {"labelFont": "Liberation Sans", "labelFontSize": 9.5, "labelColor": "#333", "titleFont": "Liberation Sans", "titleFontSize": 8.5, "titleFontWeight": "bold", "titleColor": "#222", "domain": false, "tickColor": "#777", "tickSize": 4, "offset": -4, "ticks": true, "grid": false, "labelFlush": false, "labelOverlap": false},
    "axisX": {"labelPadding": 6, "titlePadding": 12},
    "axisY": {"labelPadding": 7, "titlePadding": 17.5},
    "legend": {"labelFont": "Liberation Sans", "labelFontSize": 9.5, "labelColor": "#555", "symbolSize": 30, "symbolType": "circle", "labelOffset": 18, "symbolStrokeWidth": 0, "padding": 0}
  }
}
